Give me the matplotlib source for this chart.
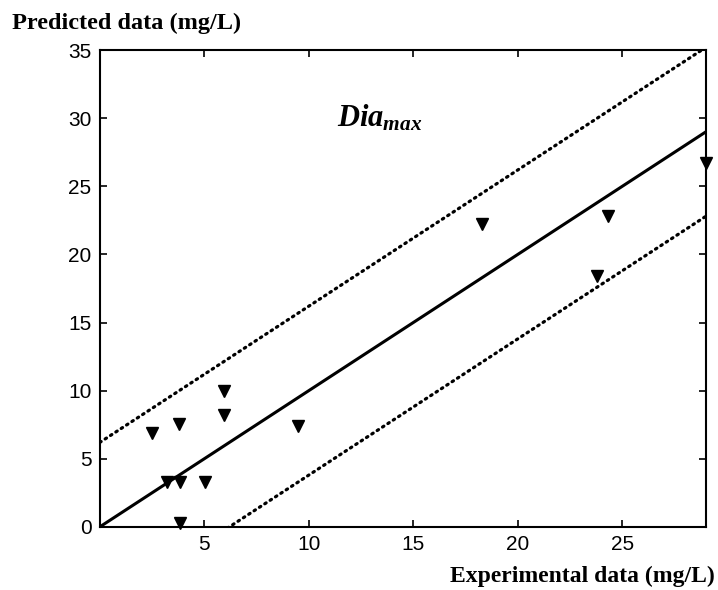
import matplotlib
matplotlib.use("Agg")
import matplotlib.pyplot as plt
import numpy as np

plt.rcParams["mathtext.fontset"] = "custom"
plt.rcParams["mathtext.it"] = "Liberation Serif:italic:bold"
plt.rcParams["mathtext.rm"] = "Liberation Serif:bold"

# measured vs predicted (mg/L)
exp_data = [2.5, 3.8, 5.95, 5.95, 9.5, 3.2, 3.85, 5.05, 3.85, 18.3, 24.3, 23.8, 29.0]
pred_data = [6.9, 7.55, 9.95, 8.2, 7.4, 3.3, 3.3, 3.3, 0.3, 22.2, 22.8, 18.4, 26.7]
band = 6.2
x_max = 29.0
y_max = 35
x_ticks = [5, 10, 15, 20, 25]
y_ticks = [0, 5, 10, 15, 20, 25, 30, 35]

fig = plt.figure(figsize=(7.18, 5.90), dpi=100)
ax = fig.add_axes([0.139, 0.107, 0.844, 0.808])

xs = np.array([0, x_max])
ax.plot(xs, xs, color="black", lw=2.2)
ax.plot(xs, xs + band, color="black", lw=2.3, linestyle=(0, (0.5, 1.5)), dash_capstyle="round")
ax.plot(xs, xs - band, color="black", lw=2.3, linestyle=(0, (0.5, 1.5)), dash_capstyle="round")
ax.plot(exp_data, pred_data, linestyle="none", marker="v", color="black", ms=9, clip_on=False, zorder=3)

ax.set_xlim(0, x_max)
ax.set_ylim(0, y_max)
ax.set_xticks(x_ticks)
ax.set_yticks(y_ticks)
ax.tick_params(direction="in", length=5, width=1.2, top=True, right=True, labelsize=15, pad=6)
for lab in ax.get_xticklabels() + ax.get_yticklabels():
    lab.set_family("Liberation Sans")
for sp in ax.spines.values():
    sp.set_linewidth(1.5)

ax.text(11.35, 29.4, r"$Dia_{max}$", fontsize=22)

fig.text(0.017, 0.961, "Predicted data (mg/L)", family="Liberation Serif", weight="bold",
         fontsize=17.5, ha="left", va="center")
fig.text(0.996, 0.0226, "Experimental data (mg/L)", family="Liberation Serif", weight="bold",
         fontsize=17, ha="right", va="center")

fig.savefig("out.png", dpi=100)
